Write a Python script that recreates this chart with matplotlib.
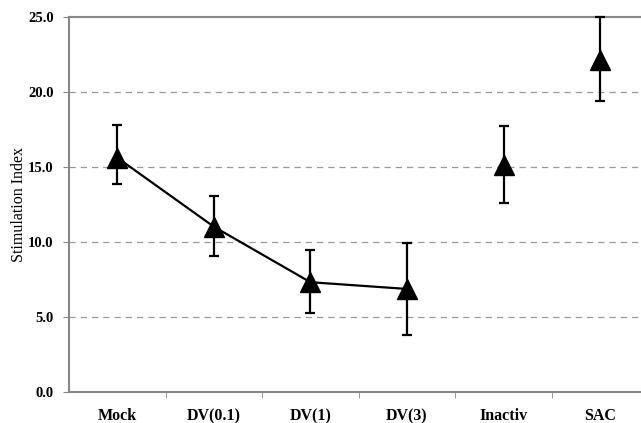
import matplotlib
matplotlib.use("Agg")
import matplotlib.pyplot as plt
import numpy as np

categories = ["Mock", "DV(0.1)", "DV(1)", "DV(3)", "Inactiv", "SAC"]
means = [15.6, 11.0, 7.3, 6.85, 15.1, 22.1]
err_low = [13.85, 9.07, 5.22, 3.76, 12.56, 19.38]
err_high = [17.8, 13.07, 9.45, 9.93, 17.73, 25.0]
n_linked = 4  # Mock .. DV(3) are joined by a line

plt.rcParams["font.family"] = ["Liberation Serif", "DejaVu Serif"]

fig = plt.figure(figsize=(6.41, 4.23), dpi=100)
ax = fig.add_axes([0.1076, 0.074, 0.904, 0.8865])

x = np.arange(len(categories))
m = np.array(means)
yerr = [m - np.array(err_low), np.array(err_high) - m]

ax.plot(x[:n_linked], m[:n_linked], color="black", lw=1.6, zorder=2)
ax.errorbar(x, m, yerr=yerr, fmt="none", ecolor="black", elinewidth=1.6,
            capsize=3.5, capthick=1.6, zorder=3, clip_on=False)
ax.plot(x, m, ls="none", marker="^", ms=14, color="black", zorder=4)

ax.set_xlim(-0.5, len(categories) - 0.5)
ax.set_ylim(0, 25)
ax.set_yticks(np.arange(0, 26, 5))
ax.set_yticklabels([f"{v:.1f}" for v in np.arange(0, 26, 5)],
                   fontweight="bold", fontsize=10.5)
ax.set_xticks(x)
ax.set_xticklabels(categories, fontweight="bold", fontsize=11.5)
ax.tick_params(axis="x", which="major", length=0, pad=12)
ax.set_xticks(np.arange(0.5, len(categories) - 0.5), minor=True)
ax.tick_params(axis="x", which="minor", length=4, color="#888888")
ax.tick_params(axis="y", length=4, color="#888888", pad=7)
ax.set_ylabel("Stimulation Index", fontsize=11.5, labelpad=1)

for v in [5, 10, 15, 20]:
    ax.axhline(v, color="#999999", lw=0.9, ls=(0, (5, 4)), zorder=1)

for s in ["left", "bottom", "top"]:
    ax.spines[s].set_color("#888888")
    ax.spines[s].set_linewidth(1.5)
ax.spines["right"].set_visible(False)

fig.savefig("out.png", dpi=100)
